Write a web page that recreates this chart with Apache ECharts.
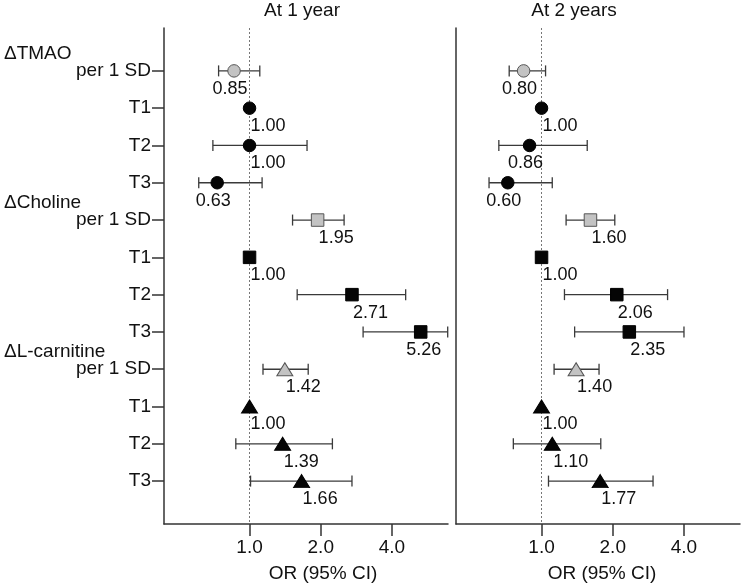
<!DOCTYPE html>
<html>
<head>
<meta charset="utf-8">
<script src="https://cdn.jsdelivr.net/npm/echarts@6/dist/echarts.min.js"></script>
<style>
html,body{margin:0;padding:0;background:#fff;}
#chart{width:742px;height:588px;}
</style>
</head>
<body>
<div id="chart"></div>
<script>
// ---------- data ----------
const rowNames = ['per 1 SD','T1','T2','T3','per 1 SD','T1','T2','T3','per 1 SD','T1','T2','T3'];
const groupNames = ['ΔTMAO','ΔCholine','ΔL-carnitine'];
const groupStartRows = [1, 5, 9];
const groupSymbols = ['circle','rect','triangle'];
const panelTitles = ['At 1 year','At 2 years'];
const xAxisTitle = 'OR (95% CI)';
const xTickValues = [1, 2, 4];

// At 1 year: plotted OR, CI low, CI high, printed label
const orYear1 = [0.86, 1.00, 1.00, 0.73, 1.94, 1.00, 2.71, 5.29, 1.41, 1.00, 1.38, 1.66];
const loYear1 = [0.74, null, 0.70, 0.61, 1.52, null, 1.59, 3.02, 1.14, null, 0.875, 1.01];
const hiYear1 = [1.105, null, 1.75, 1.13, 2.51, null, 4.57, 6.88, 1.77, null, 2.24, 2.71];
const labelYear1 = ['0.85','1.00','1.00','0.63','1.95','1.00','2.71','5.26','1.42','1.00','1.39','1.66'];

// At 2 years
const orYear2 = [0.84, 1.00, 0.89, 0.72, 1.61, 1.00, 2.08, 2.35, 1.40, 1.00, 1.11, 1.77];
const loYear2 = [0.73, null, 0.66, 0.60, 1.27, null, 1.25, 1.38, 1.13, null, 0.76, 1.07];
const hiYear2 = [1.04, null, 1.56, 1.11, 2.04, null, 3.41, 4.00, 1.75, null, 1.78, 2.96];
const labelYear2 = ['0.80','1.00','0.86','0.60','1.60','1.00','2.06','2.35','1.40','1.00','1.10','1.77'];

// ---------- build ----------
const FONT = 'Liberation Sans, Arial, Helvetica, sans-serif';
const TXT = '#111';
const rowIdx = rowNames.map((_, i) => i + 1);
const yMin = -0.15, yMax = 13.15;
const xMin = 0.435, xMax = 6.9;

function groupOf(row){ let g = 0; for (let i = 0; i < groupStartRows.length; i++) if (row >= groupStartRows[i]) g = i; return g; }
function isSD(row){ return groupStartRows.indexOf(row) >= 0; }

function markerData(or){
  return or.map((v, i) => {
    const row = i + 1, g = groupOf(row);
    const sym = groupSymbols[g];
    const size = sym === 'triangle' ? [16, 13] : 12.5;
    return {
      value: [v, row],
      symbol: sym,
      symbolSize: size,
      itemStyle: {
        color: isSD(row) ? '#c3c3c3' : '#050505',
        borderColor: isSD(row) ? '#555' : '#000',
        borderWidth: 1,
        opacity: 1
      }
    };
  });
}

function ciData(lo, hi){
  const out = [];
  lo.forEach((l, i) => { if (l != null && hi[i] != null) out.push([l, hi[i], i + 1]); });
  return out;
}

function labelData(or){ return or.map((v, i) => [v, i + 1]); }

function makePanelSeries(p, or, lo, hi, labels){
  return [
    {
      type: 'custom', xAxisIndex: p, yAxisIndex: p, silent: true,
      data: ciData(lo, hi),
      encode: { x: [0, 1], y: 2 },
      renderItem: function (params, api) {
        const y = api.value(2);
        const a = api.coord([api.value(0), y]);
        const b = api.coord([api.value(1), y]);
        const cap = 5.5;
        const st = { stroke: '#3a3a3a', lineWidth: 1.3 };
        return { type: 'group', children: [
          { type: 'line', shape: { x1: a[0], y1: a[1], x2: b[0], y2: b[1] }, style: st },
          { type: 'line', shape: { x1: a[0], y1: a[1] - cap, x2: a[0], y2: a[1] + cap }, style: st },
          { type: 'line', shape: { x1: b[0], y1: b[1] - cap, x2: b[0], y2: b[1] + cap }, style: st }
        ]};
      },
      z: 2
    },
    {
      type: 'custom', xAxisIndex: p, yAxisIndex: p, silent: true,
      data: labelData(or),
      encode: { x: 0, y: 1 },
      renderItem: function (params, api) {
        const pt = api.coord([api.value(0), api.value(1)]);
        const txt = labels[params.dataIndex];
        const num = parseFloat(txt);
        let align = 'left', dx = 1;
        if (num < 1) { align = 'center'; dx = -4; }
        else if (num > 4) { align = 'center'; dx = 3; }
        return {
          type: 'text', x: pt[0] + dx, y: pt[1] + 18,
          style: { text: txt, fill: TXT, fontSize: 18, fontFamily: FONT, align: align, verticalAlign: 'middle', textAlign: align, textVerticalAlign: 'middle' }
        };
      },
      z: 3
    },
    {
      type: 'scatter', xAxisIndex: p, yAxisIndex: p, silent: true,
      data: markerData(or),
      z: 4,
      markLine: {
        silent: true, symbol: ['none', 'none'],
        label: { show: false },
        lineStyle: { color: '#777', width: 1, type: [2, 2] },
        data: [{ xAxis: 1 }],
        z: 1
      }
    }
  ];
}

const xAxisBase = (p, namePad) => ({
  type: 'log', logBase: 2, gridIndex: p, min: xMin, max: xMax, position: 'bottom',
  name: xAxisTitle, nameLocation: 'middle', nameGap: 40,
  nameTextStyle: { color: TXT, fontSize: 19, fontFamily: FONT, padding: [0, 0, 0, namePad] },
  axisLine: { show: true, onZero: false, lineStyle: { color: '#333', width: 1.5 } },
  axisTick: { show: true, length: 12, inside: false, customValues: xTickValues, lineStyle: { color: '#333', width: 1.5 } },
  axisLabel: { show: true, customValues: xTickValues, margin: 14, color: TXT, fontSize: 19, fontFamily: FONT,
    formatter: v => Number(v).toFixed(1) },
  splitLine: { show: false },
  minorTick: { show: false }
});

const option = {
  animation: false,
  backgroundColor: '#fff',
  grid: [
    { left: 164, right: 742 - 448, top: 28, bottom: 588 - 524 },
    { left: 456, right: 742 - 740, top: 28, bottom: 588 - 524 }
  ],
  xAxis: [ xAxisBase(0, 34), xAxisBase(1, 8) ],
  yAxis: [
    {
      type: 'value', gridIndex: 0, min: yMin, max: yMax, inverse: true,
      axisLine: { show: true, onZero: false, lineStyle: { color: '#333', width: 1.5 } },
      axisTick: { show: true, length: 12, customValues: rowIdx, lineStyle: { color: '#333', width: 1.5 } },
      axisLabel: { show: true, customValues: rowIdx, margin: 13, color: TXT, fontSize: 19, fontFamily: FONT,
        formatter: v => rowNames[Math.round(v) - 1] || '' },
      splitLine: { show: false }
    },
    {
      type: 'value', gridIndex: 1, min: yMin, max: yMax, inverse: true,
      axisLine: { show: true, onZero: false, lineStyle: { color: '#333', width: 1.5 } },
      axisTick: { show: false }, axisLabel: { show: false }, splitLine: { show: false }
    },
    {
      type: 'value', gridIndex: 0, min: yMin, max: yMax, inverse: true, position: 'left',
      axisLine: { show: false }, axisTick: { show: false }, splitLine: { show: false },
      axisLabel: { show: true, customValues: groupStartRows.map(r => r - 0.47), margin: 160, align: 'left',
        color: TXT, fontSize: 19, fontFamily: FONT,
        formatter: v => { const i = groupStartRows.indexOf(Math.round(v + 0.47)); return i >= 0 ? groupNames[i] : ''; } }
    }
  ],
  graphic: [
    { type: 'text', x: 302, y: 11, style: { text: panelTitles[0], fill: TXT, fontSize: 19, fontFamily: FONT, align: 'center', verticalAlign: 'middle' } },
    { type: 'text', x: 574, y: 11, style: { text: panelTitles[1], fill: TXT, fontSize: 19, fontFamily: FONT, align: 'center', verticalAlign: 'middle' } }
  ],
  series: [].concat(
    makePanelSeries(0, orYear1, loYear1, hiYear1, labelYear1),
    makePanelSeries(1, orYear2, loYear2, hiYear2, labelYear2)
  )
};

const chart = echarts.init(document.getElementById('chart'), null, { renderer: 'canvas' });
chart.setOption(option);
</script>
</body>
</html>
